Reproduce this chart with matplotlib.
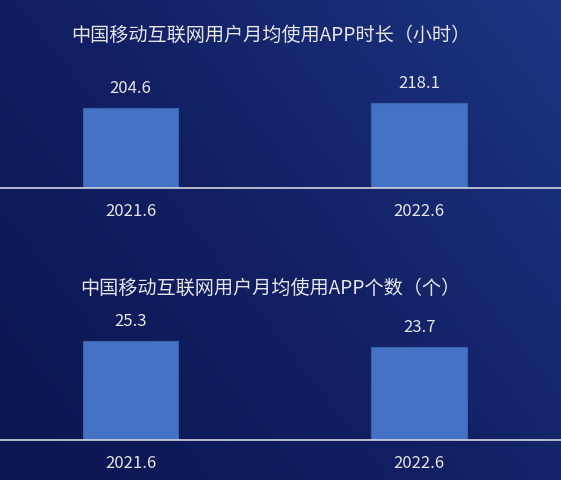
import numpy as np
import matplotlib
matplotlib.use("Agg")
import matplotlib.pyplot as plt
from matplotlib.colors import LinearSegmentedColormap

plt.rcParams['font.family'] = ['Noto Sans CJK SC', 'DejaVu Sans']

categories = ["2021.6", "2022.6"]
hours = [204.6, 218.1]
app_counts = [25.3, 23.7]
title_hours = "中国移动互联网用户月均使用APP时长（小时）"
title_counts = "中国移动互联网用户月均使用APP个数（个）"

W, H = 561, 480
fig = plt.figure(figsize=(W / 100, H / 100), dpi=100)

# gradient background
bg = fig.add_axes([0, 0, 1, 1])
bg.set_axis_off()
yy, xx = np.mgrid[0:1:200j, 0:1:200j]
t = (xx * 0.6 + yy * 0.4)
cmap = LinearSegmentedColormap.from_list("bgc", ["#0c1550", "#122064", "#1c3582"])
bg.imshow(t, cmap=cmap, origin="lower", extent=[0, 1, 0, 1], aspect="auto")
bg.set_xlim(0, 1)
bg.set_ylim(0, 1)

text_color = "#e6e6e6"
bar_color = "#4472c4"
c0, spacing = 130.5, 288.8

def make_panel(axis_y_px, values, scale_px, title, title_y_px):
    h_px = 130
    ax = fig.add_axes([0, (H - axis_y_px) / H, 1, h_px / H])
    ax.patch.set_alpha(0)
    x = np.arange(len(values))
    ax.bar(x, values, width=0.332, color=bar_color, edgecolor="#3b64ad", linewidth=0.8)
    ax.set_xlim(-c0 / spacing, (W - c0) / spacing)
    ax.set_ylim(0, h_px / scale_px)
    for s in ["top", "left", "right"]:
        ax.spines[s].set_visible(False)
    ax.spines["bottom"].set_color("#d0d4e0")
    ax.spines["bottom"].set_linewidth(1.2)
    ax.set_yticks([])
    ax.set_xticks(x)
    ax.set_xticklabels(categories, color=text_color, fontsize=12)
    ax.tick_params(axis="x", length=0, pad=10.5)
    for xi, v in zip(x, values):
        ax.annotate(f"{v}", (xi, v), xytext=(0, 14), textcoords="offset points",
                    ha="center", va="center", color=text_color, fontsize=12)
    fig.text(270.5 / W, 1 - title_y_px / H, title, ha="center", va="center",
             color=text_color, fontsize=13.8)
    return ax

make_panel(188, hours, 85 / 218.1, title_hours, 35)
make_panel(440, app_counts, 99 / 25.3, title_counts, 288)

fig.savefig("out.png", dpi=100)
